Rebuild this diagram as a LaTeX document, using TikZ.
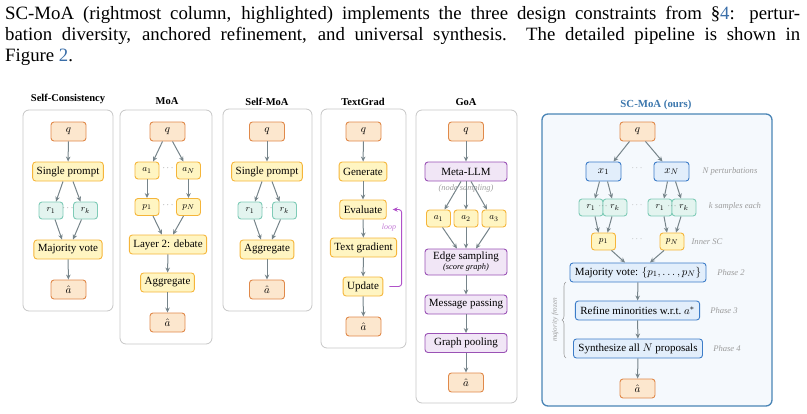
\documentclass[tikz,border=0pt]{standalone}
\usepackage{fontspec}
\setmainfont{Liberation Serif}
\usetikzlibrary{arrows.meta,decorations.pathreplacing}
\definecolor{ioFill}{HTML}{FCE7CE}
\definecolor{ioLine}{HTML}{E0894A}
\definecolor{ylwFill}{HTML}{FFF5C2}
\definecolor{ylwLine}{HTML}{F5B53A}
\definecolor{tealFill}{HTML}{E3F4EF}
\definecolor{tealLine}{HTML}{7FCBB7}
\definecolor{purpFill}{HTML}{F1E6F6}
\definecolor{purpLine}{HTML}{9A52B5}
\definecolor{blueFill}{HTML}{E2EEFB}
\definecolor{blueLine}{HTML}{3C7CC8}
\definecolor{arrGray}{HTML}{76848A}
\definecolor{frameGray}{HTML}{C6C6C6}
\definecolor{scFrame}{HTML}{4A85B6}
\definecolor{scFill}{HTML}{F5F9FD}
\definecolor{titleBlue}{HTML}{3C77AD}
\definecolor{noteGray}{HTML}{9C9C9C}
\definecolor{dotGray}{HTML}{6E6E6E}
\definecolor{loopPurple}{HTML}{B052C9}
\definecolor{linkBlue}{HTML}{3A6EA8}
\newcommand\capfont{\fontsize{18.8}{21}\selectfont}
\begin{document}
\begin{tikzpicture}[x=1pt,y=-1pt]
				\tikzstyle{Box} = [rounded corners=3pt, draw, line width=0.9pt, inner sep=0pt, minimum height=19pt, font=\fontsize{11}{12}\selectfont, align=center]
				\tikzstyle{IO} = [Box, fill=ioFill, draw=ioLine, minimum width=35pt]
				\tikzstyle{Stage} = [Box, fill=ylwFill, draw=ylwLine, inner xsep=4pt]
				\tikzstyle{Agent} = [Box, fill=ylwFill, draw=ylwLine, minimum width=24pt, minimum height=17pt, font=\fontsize{9.5}{10}\selectfont]
				\tikzstyle{Resp} = [Box, fill=tealFill, draw=tealLine, minimum width=24pt, minimum height=17pt, font=\fontsize{9.5}{10}\selectfont]
				\tikzstyle{Graph} = [Box, fill=purpFill, draw=purpLine, minimum width=82pt]
				\tikzstyle{Pert} = [Box, fill=blueFill, draw=blueLine, inner xsep=5pt]
				\tikzstyle{Title} = [font=\bfseries\fontsize{10.5}{12}\selectfont]
				\tikzstyle{Frame} = [draw=frameGray, line width=0.8pt, rounded corners=6pt]
				\tikzstyle{Note} = [font=\itshape\fontsize{8.6}{10}\selectfont, text=noteGray]
				\tikzstyle{Dots} = [font=\fontsize{9}{10}\selectfont, text=dotGray, inner sep=0pt]
				\tikzstyle{Flow} = [draw=arrGray, line width=1pt, -{Stealth[length=5pt,width=4.5pt]}]
				\tikzstyle{Loop} = [draw=loopPurple, line width=0.9pt, rounded corners=3pt, -{Stealth[length=5pt,width=4.5pt]}]
				\useasboundingbox (0,0) rectangle (807,413);
				\node (cap1) at (5,19) [anchor=base west, inner sep=0pt] {\capfont\hbox to 795pt{SC-MoA (rightmost column, highlighted) implements the three design constraints from \S\textcolor{linkBlue}{4}: pertur-}};
				\node (cap2) at (5,40) [anchor=base west, inner sep=0pt] {\capfont\hbox to 795pt{bation diversity, anchored refinement, and universal synthesis.\ \ The detailed pipeline is shown in}};
				\node (cap3) at (5,61) [anchor=base west, inner sep=0pt] {\capfont Figure \textcolor{linkBlue}{2}.};
				\draw[Frame] (23,110) rectangle (113,311);
				\draw[Frame] (120,110) rectangle (212,344);
				\draw[Frame] (223,109) rectangle (312,311);
				\draw[Frame] (321,109) rectangle (406,348);
				\draw[Frame] (416,110) rectangle (517,403);
				\draw[draw=scFrame, fill=scFill, line width=1.3pt, rounded corners=6pt] (542,114) rectangle (772,406);
				\node (scT) at (68,99) [Title] {Self-Consistency};
				\node (scq) at (68.5,131.5) [IO] {$q$};
				\node (scsp) at (68,171.5) [Stage] {Single prompt};
				\node (scr1) at (51,210.5) [Resp] {$r_1$};
				\node (scrk) at (85.5,210.5) [Resp] {$r_k$};
				\node (scdots) at (68,208) [Dots] {$\cdots$};
				\node (scmv) at (68,249.5) [Stage] {Majority vote};
				\node (sca) at (68.5,289.5) [IO] {$\hat{a}$};
				\draw[Flow] (scq) to (scsp);
				\draw[Flow] ([xshift=-5pt]scsp.south) to ([xshift=5pt]scr1.north);
				\draw[Flow] ([xshift=5pt]scsp.south) to ([xshift=-5pt]scrk.north);
				\draw[Flow] ([xshift=4pt]scr1.south) to ([xshift=-6pt]scmv.north);
				\draw[Flow] ([xshift=-4pt]scrk.south) to ([xshift=5pt]scmv.north);
				\draw[Flow] (scmv) to (sca);
				\node (moaT) at (167,101) [Title] {MoA};
				\node (moaq) at (167.5,131.5) [IO] {$q$};
				\node (moaa1) at (147,170.5) [Agent] {$a_1$};
				\node (moaaN) at (188.5,170.5) [Agent] {$a_N$};
				\node (moadots1) at (168,168) [Dots] {$\cdots$};
				\node (moap1) at (147,207) [Agent] {$p_1$};
				\node (moapN) at (188.5,207) [Agent] {$p_N$};
				\node (moadots2) at (168,205) [Dots] {$\cdots$};
				\node (moal2) at (168,244.5) [Stage] {Layer 2: debate};
				\node (moaagg) at (167.5,282.5) [Stage] {Aggregate};
				\node (moaa) at (167.5,322.5) [IO] {$\hat{a}$};
				\draw[Flow] ([xshift=-5pt]moaq.south) to ([xshift=6pt]moaa1.north);
				\draw[Flow] ([xshift=5pt]moaq.south) to ([xshift=-5pt]moaaN.north);
				\draw[Flow] (moaa1) to (moap1);
				\draw[Flow] (moaaN) to (moapN);
				\draw[Flow] ([xshift=6pt]moap1.south) to ([xshift=-6pt]moal2.north);
				\draw[Flow] ([xshift=-5pt]moapN.south) to ([xshift=5pt]moal2.north);
				\draw[Flow] (moal2) to (moaagg);
				\draw[Flow] (moaagg) to (moaa);
				\node (smoaT) at (267,102) [Title] {Self-MoA};
				\node (smoaq) at (267,131.5) [IO] {$q$};
				\node (smoasp) at (267,171.5) [Stage] {Single prompt};
				\node (smoar1) at (250,210.5) [Resp] {$r_1$};
				\node (smoark) at (284.5,210.5) [Resp] {$r_k$};
				\node (smoadots) at (267,208) [Dots] {$\cdots$};
				\node (smoaagg) at (267,249.5) [Stage] {Aggregate};
				\node (smoaa) at (267,289.5) [IO] {$\hat{a}$};
				\draw[Flow] (smoaq) to (smoasp);
				\draw[Flow] ([xshift=-5pt]smoasp.south) to ([xshift=5pt]smoar1.north);
				\draw[Flow] ([xshift=5pt]smoasp.south) to ([xshift=-5pt]smoark.north);
				\draw[Flow] ([xshift=4pt]smoar1.south) to ([xshift=-6pt]smoaagg.north);
				\draw[Flow] ([xshift=-4pt]smoark.south) to ([xshift=5pt]smoaagg.north);
				\draw[Flow] (smoaagg) to (smoaa);
				\node (tgT) at (363,102) [Title] {TextGrad};
				\node (tgq) at (363.5,131.5) [IO] {$q$};
				\node (tggen) at (363,171.5) [Stage] {Generate};
				\node (tgeval) at (363,209.5) [Stage] {Evaluate};
				\node (tggrad) at (363.5,247.5) [Stage] {Text gradient};
				\node (tgupd) at (363,286.5) [Stage] {Update};
				\node (tga) at (363.5,326.5) [IO] {$\hat{a}$};
				\draw[Flow] (tgq) to (tggen);
				\draw[Flow] (tggen) to (tgeval);
				\draw[Flow] (tgeval) to (tggrad);
				\draw[Flow] (tggrad) to (tgupd);
				\draw[Flow] (tgupd) to (tga);
				\draw[Loop] ([xshift=6pt]tgupd.east) -| ([xshift=15pt]tgeval.east) -- ([xshift=6pt]tgeval.east);
				\node (tgloop) at (389,228) [font=\itshape\fontsize{8}{9}\selectfont, text=loopPurple!75] {loop};
				\node (goaT) at (466,102) [Title] {GoA};
				\node (goaq) at (466,131.5) [IO] {$q$};
				\node (goameta) at (466,171.5) [Graph] {Meta-LLM};
				\node (goanote) at (466,188.5) [Note, font=\itshape\fontsize{8.4}{9}\selectfont] {(node sampling)};
				\node (goaa1) at (438.5,218.5) [Agent] {$a_1$};
				\node (goaa2) at (466,218.5) [Agent] {$a_2$};
				\node (goaa3) at (494,218.5) [Agent] {$a_3$};
				\node (goaedge) at (466,262) [Graph, minimum height=26pt] {Edge sampling\\[-2pt]{\itshape\fontsize{8.4}{9}\selectfont (score graph)}};
				\node (goamsg) at (466,304.5) [Graph] {Message passing};
				\node (goapool) at (466,343) [Graph] {Graph pooling};
				\node (goaa) at (466,382.5) [IO] {$\hat{a}$};
				\draw[Flow] (goaq) to (goameta);
				\draw[Flow] ([xshift=-5pt]goameta.south) to ([xshift=6pt]goaa1.north);
				\draw[Flow] (goameta) to (goaa2);
				\draw[Flow] ([xshift=5pt]goameta.south) to ([xshift=-7pt]goaa3.north);
				\draw[Flow] ([xshift=4pt]goaa1.south) to ([xshift=-9pt]goaedge.north);
				\draw[Flow] (goaa2) to (goaedge);
				\draw[Flow] ([xshift=-4pt]goaa3.south) to ([xshift=10pt]goaedge.north);
				\draw[Flow] (goaedge) to (goamsg);
				\draw[Flow] (goamsg) to (goapool);
				\draw[Flow] (goapool) to (goaa);
				\node (oursT) at (656,105) [Title, text=titleBlue, font=\bfseries\fontsize{10.8}{12}\selectfont] {SC-MoA (ours)};
				\node (oursq) at (637.5,131.5) [IO] {$q$};
				\node (oursx1) at (603.5,171.5) [Pert, minimum width=35pt] {$x_1$};
				\node (oursxN) at (671.5,171.5) [Pert, minimum width=35pt] {$x_N$};
				\node (oursdots1) at (637,168) [Dots, text=noteGray] {$\cdots$};
				\node (oursn1) at (730,171.5) [Note] {N perturbations};
				\node (oursr1a) at (591,207.5) [Resp] {$r_1$};
				\node (oursrka) at (615,207.5) [Resp] {$r_k$};
				\node (oursr1b) at (660,207.5) [Resp] {$r_1$};
				\node (oursrkb) at (684,207.5) [Resp] {$r_k$};
				\node (oursdotsa) at (603,206) [Dots] {$\cdot\!\cdot\!\cdot$};
				\node (oursdotsb) at (672,206) [Dots] {$\cdot\!\cdot\!\cdot$};
				\node (oursdots2) at (637,205) [Dots, text=noteGray] {$\cdots$};
				\node (oursn2) at (735,206.5) [Note] {k samples each};
				\node (oursp1) at (603.5,241.5) [Agent] {$p_1$};
				\node (ourspN) at (672,241.5) [Agent] {$p_N$};
				\node (oursdots3) at (637,239) [Dots, text=noteGray] {$\cdots$};
				\node (oursn3) at (707,242) [Note] {Inner SC};
				\node (oursmv) at (638,272.5) [Pert] {Majority vote: $\{p_1,\ldots,p_N\}$};
				\node (oursph2) at (731,272.5) [Note] {Phase 2};
				\node (oursref) at (637.5,310.5) [Pert] {Refine minorities w.r.t.\ $a^*$};
				\node (oursph3) at (724,310.5) [Note] {Phase 3};
				\node (ourssyn) at (638,348.5) [Pert] {Synthesize all $N$ proposals};
				\node (oursph4) at (727,349) [Note] {Phase 4};
				\node (oursa) at (637.5,388.5) [IO] {$\hat{a}$};
				\draw[Flow] ([xshift=-8pt]oursq.south) to ([xshift=10pt]oursx1.north);
				\draw[Flow] ([xshift=8pt]oursq.south) to ([xshift=-9pt]oursxN.north);
				\draw[Flow] ([xshift=-4pt]oursx1.south) to ([xshift=4pt]oursr1a.north);
				\draw[Flow] ([xshift=4pt]oursx1.south) to ([xshift=-3pt]oursrka.north);
				\draw[Flow] ([xshift=-4pt]oursxN.south) to ([xshift=4pt]oursr1b.north);
				\draw[Flow] ([xshift=4pt]oursxN.south) to ([xshift=-3pt]oursrkb.north);
				\draw[Flow] ([xshift=4pt]oursr1a.south) to ([xshift=-5pt]oursp1.north);
				\draw[Flow] ([xshift=-3pt]oursrka.south) to ([xshift=4pt]oursp1.north);
				\draw[Flow] ([xshift=4pt]oursr1b.south) to ([xshift=-5pt]ourspN.north);
				\draw[Flow] ([xshift=-3pt]oursrkb.south) to ([xshift=4pt]ourspN.north);
				\draw[Flow] ([xshift=8pt]oursp1.south) to ([xshift=-13pt]oursmv.north);
				\draw[Flow] ([xshift=-8pt]ourspN.south) to ([xshift=12pt]oursmv.north);
				\draw[Flow] (oursmv) to (oursref);
				\draw[Flow] (oursref) to (ourssyn);
				\draw[Flow] (ourssyn) to (oursa);
				\draw[draw=noteGray, line width=0.6pt, decorate, decoration={brace, amplitude=4pt}] (566,358) -- (566,282);
				\node (oursfrozen) at (555,320) [Note, rotate=90, font=\itshape\fontsize{7.2}{8}\selectfont] {majority frozen};
			\end{tikzpicture}
\end{document}
